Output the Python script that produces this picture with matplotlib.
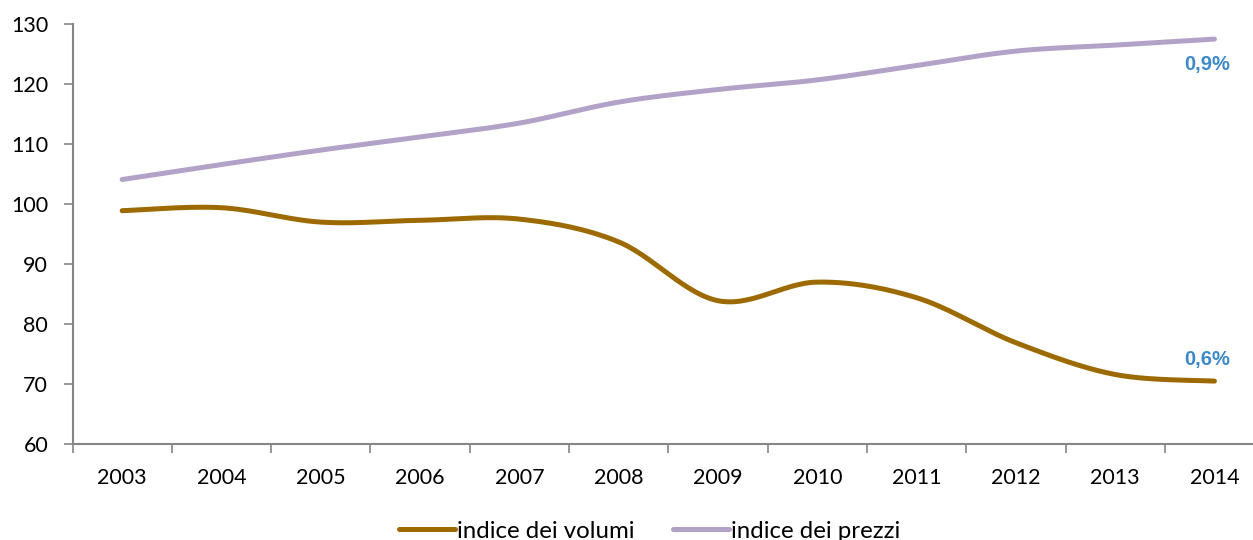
import numpy as np
import matplotlib
matplotlib.use("Agg")
import matplotlib.pyplot as plt
from matplotlib.lines import Line2D

years = ["2003", "2004", "2005", "2006", "2007", "2008", "2009", "2010", "2011", "2012", "2013", "2014"]
volumi = [98.8, 99.3, 96.9, 97.2, 97.4, 93.6, 83.8, 86.9, 84.3, 76.8, 71.5, 70.4]
prezzi = [104.0, 106.5, 108.9, 111.1, 113.4, 116.9, 119.0, 120.6, 123.0, 125.4, 126.4, 127.4]
labels_end = ["0,6%", "0,9%"]
series_names = ["indice dei volumi", "indice dei prezzi"]

c_vol = "#9C6A00"
c_pre = "#B3A2C7"
c_lab = "#3D89C9"

plt.rcParams['font.family'] = ['Lato', 'DejaVu Sans']


def smooth(xs, ys, n=30):
    xs = np.asarray(xs, float)
    ys = np.asarray(ys, float)
    P = np.column_stack([xs, ys])
    out = []
    for i in range(len(P) - 1):
        p0 = P[i - 1] if i > 0 else P[i]
        p1 = P[i]
        p2 = P[i + 1]
        p3 = P[i + 2] if i + 2 < len(P) else P[i + 1]
        c1 = p1 + (p2 - p0) / 6.0
        c2 = p2 - (p3 - p1) / 6.0
        t = np.linspace(0, 1, n, endpoint=(i == len(P) - 2))[:, None]
        seg = ((1 - t) ** 3) * p1 + 3 * ((1 - t) ** 2) * t * c1 + 3 * (1 - t) * t ** 2 * c2 + t ** 3 * p2
        out.append(seg)
    out = np.vstack(out)
    return out[:, 0], out[:, 1]


fig = plt.figure(figsize=(12.53, 5.40), dpi=100)
W, H = 1253, 540
x0, x1 = 72.5, 72.5 + 12 * 99.3
y_top, y_bot = 23.5, 443.5
ax = fig.add_axes([x0 / W, 1 - y_bot / H, (x1 - x0) / W, (y_bot - y_top) / H])

x = np.arange(len(years))
sx, sy = smooth(x, volumi)
ax.plot(sx, sy, color=c_vol, lw=3.6, solid_capstyle='round', zorder=3)
sx, sy = smooth(x, prezzi)
ax.plot(sx, sy, color=c_pre, lw=3.6, solid_capstyle='round', zorder=3)

ax.text(x[-1] - 0.07, volumi[-1] + 3.6, labels_end[0], color=c_lab, fontsize=14.5,
        fontweight='bold', ha='center', va='center', family=['Liberation Sans', 'DejaVu Sans'])
ax.text(x[-1] - 0.07, prezzi[-1] - 4.3, labels_end[1], color=c_lab, fontsize=14.5,
        fontweight='bold', ha='center', va='center', family=['Liberation Sans', 'DejaVu Sans'])

ax.set_xlim(-0.5, 11.5)
ax.set_ylim(60, 130)
ax.set_yticks(np.arange(60, 131, 10))
ax.set_xticks(x)
ax.set_xticklabels(years)
ax.set_xticks(np.arange(-0.5, 11.6, 1), minor=True)
ax.tick_params(axis='x', which='major', length=0, pad=18, labelsize=15.5)
ax.tick_params(axis='x', which='minor', length=6.5, width=1.2, color='#868686', direction='out')
ax.tick_params(axis='y', length=6.5, width=1.2, color='#868686', direction='out', pad=11, labelsize=15.5)

for s in ['top', 'right']:
    ax.spines[s].set_visible(False)
for s in ['left', 'bottom']:
    ax.spines[s].set_color('#868686')
    ax.spines[s].set_linewidth(1.5)

handles = [Line2D([], [], color=c_vol, lw=3.6, solid_capstyle='round'),
           Line2D([], [], color=c_pre, lw=3.6, solid_capstyle='round')]
fig.legend(handles, series_names, loc='center', bbox_to_anchor=(650 / W, 1 - 531 / H),
           ncol=2, frameon=False, fontsize=17.3, handlelength=2.3, handletextpad=0.12,
           columnspacing=1.6)

fig.savefig("out.png", dpi=100)
